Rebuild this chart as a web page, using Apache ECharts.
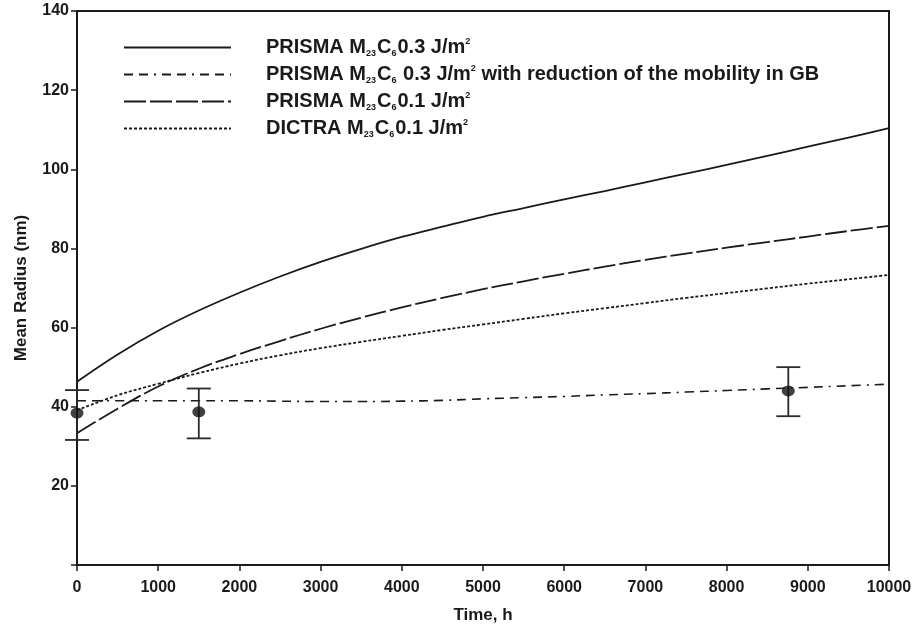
<!DOCTYPE html>
<html>
<head>
<meta charset="utf-8">
<script src="https://cdn.jsdelivr.net/npm/echarts@6/dist/echarts.min.js"></script>
<style>
  html, body { margin: 0; padding: 0; background: #fff; }
  #chart { width: 915px; height: 629px; }
</style>
</head>
<body>
<div id="chart"></div>
<script>
// Time axis samples (h) shared by the model curves
const times = [0, 500, 1000, 1500, 2000, 2500, 3000, 3500, 4000, 4500, 5000,
               5500, 6000, 6500, 7000, 7500, 8000, 8500, 9000, 9500, 10000];

// Mean radius (nm) for each model
const prisma03 = [46.3, 53.2, 59.2, 64.3, 68.8, 72.9, 76.6, 79.9, 82.9, 85.5, 88.0,
                  90.2, 92.4, 94.5, 96.7, 98.9, 101.1, 103.4, 105.7, 108.0, 110.4];
const prisma03GB = [41.5, 41.5, 41.5, 41.5, 41.5, 41.4, 41.3, 41.3, 41.4, 41.6, 42.0,
                    42.3, 42.6, 43.0, 43.3, 43.7, 44.1, 44.5, 44.9, 45.3, 45.7];
const prisma01 = [33.3, 39.5, 45.1, 49.6, 53.3, 56.6, 59.7, 62.5, 65.1, 67.5, 69.7,
                  71.7, 73.6, 75.4, 77.1, 78.7, 80.2, 81.6, 83.0, 84.4, 85.7];
const dictra01 = [39.1, 42.9, 45.8, 48.5, 50.9, 53.0, 54.8, 56.4, 57.9, 59.4, 60.8,
                  62.2, 63.6, 64.9, 66.2, 67.5, 68.7, 69.9, 71.1, 72.2, 73.3];

// Measured mean radius with scatter band
const expTime = [0, 1500, 8760];
const expMean = [38.4, 38.7, 44.0];
const expLow = [31.6, 32.0, 37.6];
const expHigh = [44.2, 44.6, 50.0];

// Axis ticks
const xTicks = [0, 1000, 2000, 3000, 4000, 5000, 6000, 7000, 8000, 9000, 10000];
const yTicks = [20, 40, 60, 80, 100, 120, 140];

const seriesKeys = ['p03', 'p03gb', 'p01', 'd01'];
const legendText = {
  p03: '{s|}{t|PRISMA M}{sub|23}{t|C}{sub|6}{t|0.3 J/m}{sup|2}',
  p03gb: '{s|}{t|PRISMA M}{sub|23}{t|C}{sub|6}{t| 0.3 J/m}{sup|2}{t| with reduction of the mobility in GB}',
  p01: '{s|}{t|PRISMA M}{sub|23}{t|C}{sub|6}{t|0.1 J/m}{sup|2}',
  d01: '{s|}{t|DICTRA M}{sub|23}{t|C}{sub|6}{t|0.1 J/m}{sup|2}'
};

const pair = (ys) => times.map((t, i) => [t, ys[i]]);
const ink = '#1a1a1a';
const font = '"Liberation Sans", Arial, sans-serif';

function lineSeries(name, ys, type, width) {
  return {
    name: name,
    type: 'line',
    data: pair(ys),
    smooth: 0.4,
    symbol: 'none',
    showSymbol: false,
    lineStyle: { color: ink, width: width, type: type },
    itemStyle: { color: ink },
    z: 3
  };
}

const chart = echarts.init(document.getElementById('chart'));
chart.setOption({
  animation: false,
  backgroundColor: '#fff',
  grid: {
    left: 77, right: 26, top: 11, bottom: 64,
    outerBoundsMode: 'none',
    show: true, borderColor: ink, borderWidth: 2
  },
  legend: {
    data: seriesKeys.map((k) => ({ name: k, itemStyle: { opacity: 0 } })),
    orient: 'vertical',
    left: 123, top: 37,
    padding: 0,
    itemWidth: 107, itemHeight: 14, itemGap: 6,
    formatter: (n) => legendText[n],
    textStyle: {
      color: ink,
      rich: {
        s: { width: 30 },
        t: { fontFamily: font, fontWeight: 'bold', fontSize: 20, color: ink, lineHeight: 21, verticalAlign: 'middle' },
        sub: { fontFamily: font, fontWeight: 'bold', fontSize: 9, color: ink, lineHeight: 21, verticalAlign: 'bottom', padding: [0, 1, 0, 0] },
        sup: { fontFamily: font, fontWeight: 'bold', fontSize: 9, color: ink, lineHeight: 21, verticalAlign: 'top' }
      }
    }
  },
  xAxis: {
    type: 'value',
    min: 0, max: 10000, interval: 1000,
    name: 'Time, h',
    nameLocation: 'middle',
    nameGap: 42,
    nameMoveOverlap: false,
    nameTextStyle: { fontFamily: font, fontWeight: 'bold', fontSize: 17, color: ink },
    axisLine: { lineStyle: { color: ink, width: 2 } },
    axisTick: { show: true, inside: false, length: 6, lineStyle: { color: ink, width: 1.5 } },
    axisLabel: {
      color: ink, fontFamily: font, fontWeight: 'bold', fontSize: 16, margin: 15,
      customValues: xTicks,
      formatter: (v) => String(v)
    },
    splitLine: { show: false }
  },
  yAxis: {
    type: 'value',
    min: 0, max: 140, interval: 20,
    name: 'Mean Radius (nm)',
    nameLocation: 'middle',
    nameGap: 47,
    nameTextStyle: { fontFamily: font, fontWeight: 'bold', fontSize: 17, color: ink },
    axisLine: { lineStyle: { color: ink, width: 2 } },
    axisTick: { show: true, inside: false, length: 6, lineStyle: { color: ink, width: 1.5 } },
    axisLabel: {
      color: ink, fontFamily: font, fontWeight: 'bold', fontSize: 16, margin: 8,
      customValues: yTicks,
      formatter: (v) => String(v)
    },
    splitLine: { show: false }
  },
  series: [
    lineSeries('p03', prisma03, 'solid', 1.8),
    lineSeries('p03gb', prisma03GB, [9, 6, 9, 6, 2, 6], 1.6),
    lineSeries('p01', prisma01, [22, 4], 1.8),
    lineSeries('d01', dictra01, [3, 2], 1.8),
    {
      name: 'errors',
      type: 'custom',
      clip: false,
      data: expTime.map((t, i) => [t, expMean[i], expLow[i], expHigh[i]]),
      renderItem: function (params, api) {
        const x = api.value(0);
        const lo = api.coord([x, api.value(2)]);
        const hi = api.coord([x, api.value(3)]);
        const half = 12;
        const st = { stroke: '#2a2a2a', lineWidth: 1.8 };
        return {
          type: 'group',
          children: [
            { type: 'line', shape: { x1: lo[0], y1: lo[1], x2: hi[0], y2: hi[1] }, style: st },
            { type: 'line', shape: { x1: lo[0] - half, y1: lo[1], x2: lo[0] + half, y2: lo[1] }, style: st },
            { type: 'line', shape: { x1: hi[0] - half, y1: hi[1], x2: hi[0] + half, y2: hi[1] }, style: st }
          ]
        };
      },
      z: 4
    },
    {
      name: 'measured',
      type: 'scatter',
      data: expTime.map((t, i) => [t, expMean[i]]),
      symbol: 'circle',
      symbolSize: [13, 11],
      itemStyle: { color: '#111' },
      clip: false,
      z: 5
    }
  ]
});
</script>
</body>
</html>
